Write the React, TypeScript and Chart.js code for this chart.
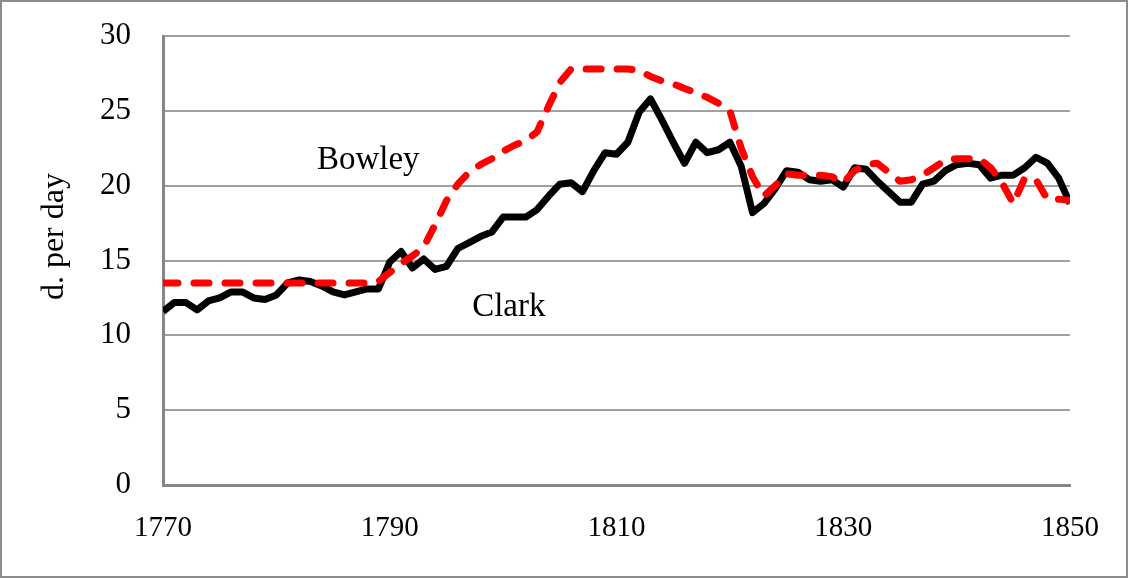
import React, { useEffect, useRef } from "react";
import { Chart, registerables } from "chart.js";

Chart.register(...registerables);

const START_YEAR = 1770;
const years: number[] = Array.from({ length: 81 }, (_, i) => START_YEAR + i);

const clark: number[] = [
  11.6, 12.2, 12.2, 11.7, 12.3, 12.5, 12.9, 12.9, 12.5, 12.4,
  12.7, 13.5, 13.7, 13.6, 13.3, 12.9, 12.7, 12.9, 13.1, 13.1,
  14.9, 15.6, 14.5, 15.1, 14.4, 14.6, 15.8, 16.2, 16.6, 16.9,
  17.9, 17.9, 17.9, 18.4, 19.3, 20.1, 20.2, 19.6, 21.0, 22.2,
  22.1, 22.9, 24.9, 25.8, 24.4, 22.9, 21.5, 22.9, 22.2, 22.4,
  22.9, 21.3, 18.2, 18.8, 19.8, 21.0, 20.9, 20.4, 20.3, 20.4,
  19.9, 21.2, 21.1, 20.3, 19.6, 18.9, 18.9, 20.1, 20.3, 21.0,
  21.4, 21.5, 21.4, 20.5, 20.7, 20.7, 21.2, 21.9, 21.5, 20.5,
  18.8,
];

const bowley: number[] = [
  13.5, 13.5, 13.5, 13.5, 13.5, 13.5, 13.5, 13.5, 13.5, 13.5,
  13.5, 13.5, 13.5, 13.5, 13.5, 13.5, 13.5, 13.5, 13.5, 13.6,
  14.2, 14.8, 15.3, 15.9, 17.4, 19.0, 20.1, 20.9, 21.4, 21.8,
  22.3, 22.7, 23.0, 23.6, 25.3, 26.9, 27.8, 27.8, 27.8, 27.8,
  27.8, 27.8, 27.7, 27.3, 27.0, 26.8, 26.5, 26.2, 25.9, 25.5,
  25.0, 22.5, 20.6, 19.3, 20.0, 20.8, 20.7, 20.7, 20.7, 20.6,
  20.2, 21.0, 21.4, 21.5, 20.9, 20.3, 20.4, 20.7, 21.2, 21.7,
  21.8, 21.8, 21.8, 21.2, 20.2, 18.8, 20.5, 20.4, 19.1, 19.1,
  19.0,
];

const xTicks: number[] = [1770, 1790, 1810, 1830, 1850];
const yTicks: number[] = [0, 5, 10, 15, 20, 25, 30];
const yTitle = "d. per day";
const seriesLabels = [
  { text: "Bowley", x: 1788.1, y: 21.7 },
  { text: "Clark", x: 1800.5, y: 11.9 },
];

const FONT = "'Liberation Serif', 'Times New Roman', serif";

const decorPlugin = {
  id: "decor",
  beforeDraw(chart: any) {
    const { ctx, width, height } = chart;
    ctx.save();
    ctx.fillStyle = "#ffffff";
    ctx.fillRect(0, 0, width, height);
    ctx.strokeStyle = "#8c8c8c";
    ctx.lineWidth = 2;
    ctx.strokeRect(1, 1, width - 2, height - 2);
    ctx.restore();
  },
  afterDraw(chart: any) {
    const { ctx, chartArea } = chart;
    const xs = chart.scales.x;
    const ys = chart.scales.y;
    ctx.save();
    ctx.fillStyle = "#000000";
    ctx.font = `33px ${FONT}`;
    ctx.textAlign = "center";
    ctx.textBaseline = "middle";
    for (const l of seriesLabels) {
      ctx.fillText(l.text, xs.getPixelForValue(l.x), ys.getPixelForValue(l.y));
    }
    ctx.translate(chartArea.left - 108, ys.getPixelForValue(16.6));
    ctx.rotate(-Math.PI / 2);
    ctx.font = `32px ${FONT}`;
    ctx.fillText(yTitle, 0, 0);
    ctx.restore();
  },
};

function zeroPadding(s: any) {
  s.paddingTop = 0;
  s.paddingBottom = 0;
  s.paddingLeft = 0;
  s.paddingRight = 0;
}

export default function App() {
  const ref = useRef<HTMLCanvasElement | null>(null);
  useEffect(() => {
    document.body.style.margin = "0";
    if (!ref.current) return;
    const chart = new Chart(ref.current, {
      type: "line",
      data: {
        datasets: [
          {
            label: "Bowley",
            data: years.map((y, i) => ({ x: y, y: bowley[i] })),
            borderColor: "#ff0000",
            borderWidth: 7,
            borderDash: [15, 16],
            borderCapStyle: "round",
            borderJoinStyle: "round",
            pointRadius: 0,
            tension: 0,
            fill: false,
          },
          {
            label: "Clark",
            data: years.map((y, i) => ({ x: y, y: clark[i] })),
            borderColor: "#000000",
            borderWidth: 7,
            borderJoinStyle: "round",
            pointRadius: 0,
            tension: 0,
            fill: false,
          },
        ],
      },
      options: {
        animation: false,
        responsive: true,
        maintainAspectRatio: false,
        layout: { padding: { top: 36, right: 58, left: 0, bottom: 0 } },
        plugins: {
          legend: { display: false },
          tooltip: { enabled: false },
        },
        scales: {
          x: {
            type: "linear",
            min: 1770,
            max: 1850,
            afterBuildTicks: (s: any) => {
              s.ticks = xTicks.map((v) => ({ value: v }));
            },
            afterFit: (s: any) => {
              s.height = 93;
              zeroPadding(s);
            },
            grid: { display: false, drawTicks: false },
            border: { display: true, color: "#868686", width: 3 },
            ticks: {
              padding: 26,
              color: "#000000",
              maxRotation: 0,
              font: { family: FONT, size: 29 },
              callback: (v: any) => String(v),
            },
          },
          y: {
            min: 0,
            max: 30,
            afterBuildTicks: (s: any) => {
              s.ticks = yTicks.map((v) => ({ value: v }));
            },
            afterFit: (s: any) => {
              s.width = 163;
              zeroPadding(s);
            },
            grid: { color: "#a0a0a0", lineWidth: 2, drawTicks: false },
            border: { display: true, color: "#868686", width: 3 },
            ticks: {
              padding: 32,
              color: "#000000",
              font: { family: FONT, size: 31 },
              callback: (v: any) => String(v),
            },
          },
        },
      },
      plugins: [decorPlugin],
    });
    return () => chart.destroy();
  }, []);
  return (
    <div style={{ position: "relative", width: 1128, height: 578 }}>
      <canvas ref={ref} />
    </div>
  );
}
